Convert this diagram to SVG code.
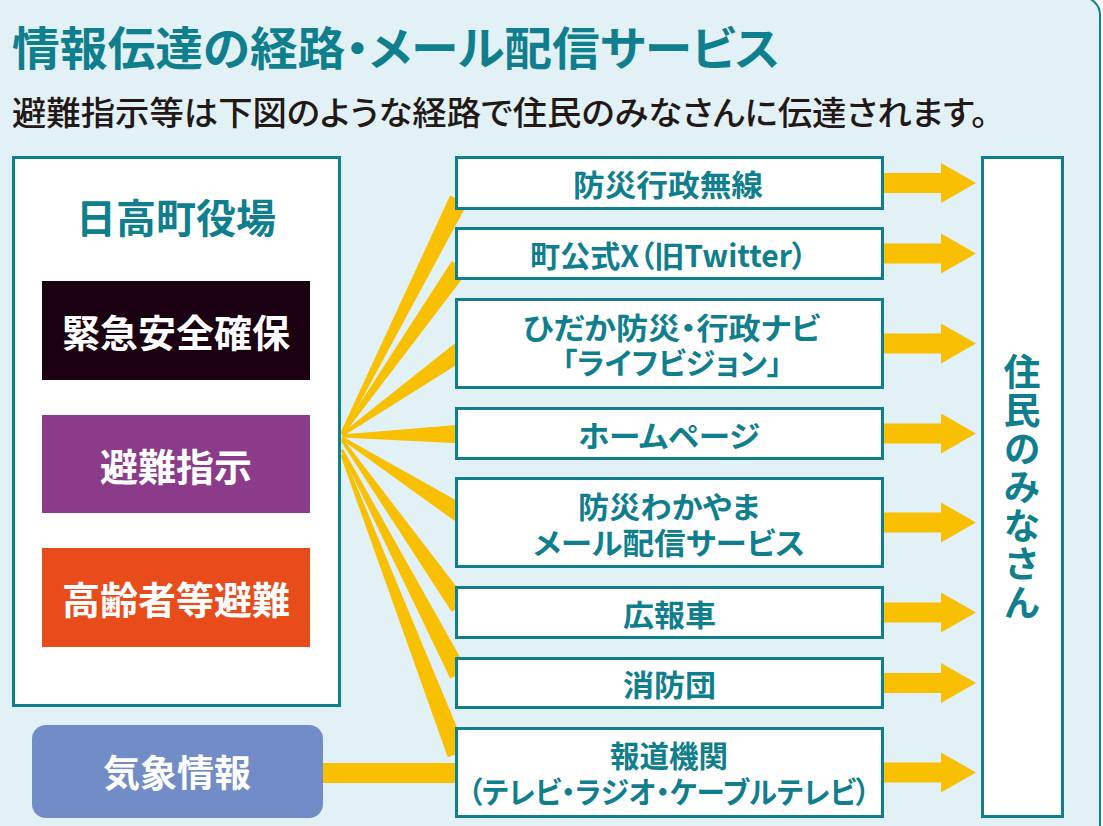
<svg xmlns="http://www.w3.org/2000/svg" xmlns:xlink="http://www.w3.org/1999/xlink" width="1103" height="826" viewBox="0 0 1103 826">
<style>
  .jp { font-family: "Noto Sans CJK JP", "Noto Sans", sans-serif; font-feature-settings: "palt"; }
  .teal { fill: #0f7e8d; }
  .white { fill: #ffffff; }
  .b { font-weight: 700; }
  .box { fill: #ffffff; stroke: #0f7e8d; stroke-width: 3; }
  .band { fill: #f8c000; }
  .mid { font-size: 30px; text-anchor: middle; dominant-baseline: central; }
  .big { text-anchor: middle; dominant-baseline: central; }
  .vert { writing-mode: vertical-rl; text-anchor: middle; font-feature-settings: normal; }
</style>
<defs>
  <path id="arr" d="M-4,-10 H57 V-20 L92,0 L57,20 V10 H-4 Z" fill="#f8c000"/>
</defs>
<rect x="0" y="0" width="1103" height="826" fill="#ffffff"/>
<rect x="-20" y="-3" width="1120" height="850" rx="18" ry="18" fill="#e1f1f5" stroke="#0f7e8d" stroke-width="2"/>

<g id="title">
  <text class="jp teal" x="12" y="45" font-size="46" font-weight="700" dominant-baseline="central" textLength="768" lengthAdjust="spacingAndGlyphs">情報伝達の経路・メール配信サービス</text>
  <text class="jp" x="12" y="111" font-size="33" font-weight="500" fill="#231815" dominant-baseline="central" textLength="976" lengthAdjust="spacingAndGlyphs">避難指示等は下図のような経路で住民のみなさんに伝達されます。</text>
</g>

<g id="connectors">
  <polygon class="band" points="340.7,432.3 450.1,195.6 467.1,204.0 343.3,433.7"/>
  <polygon class="band" points="340.8,433.1 451.8,261.0 467.4,272.0 343.2,434.9"/>
  <polygon class="band" points="341.1,433.8 456.0,342.6 467.0,358.2 342.9,436.2"/>
  <polygon class="band" points="342,434.5 462.8,424.4 463.2,443.4 342,437.5"/>
  <polygon class="band" points="342.8,436.7 466.8,506.3 456.6,522.3 341.2,439.3"/>
  <polygon class="band" points="343.2,439.1 467.4,601.0 451.8,612.0 340.8,440.9"/>
  <polygon class="band" points="343.3,449.3 467.1,669.7 450.3,678.5 340.7,450.7"/>
  <polygon class="band" points="343.4,454.5 466.6,750.4 447.8,757.2 340.6,455.5"/>
  <rect class="band" x="318" y="763" width="145" height="20"/>
  <use href="#arr" x="884" y="183"/>
  <use href="#arr" x="884" y="253.5"/>
  <use href="#arr" x="884" y="343.5"/>
  <use href="#arr" x="884" y="433.5"/>
  <use href="#arr" x="884" y="522.5"/>
  <use href="#arr" x="884" y="612.5"/>
  <use href="#arr" x="884" y="683"/>
  <use href="#arr" x="884" y="772.5"/>
</g>

<g id="node-town">
  <rect class="box" x="13.5" y="157.5" width="326" height="548"/>
  <text class="jp teal b big" x="176" y="216" font-size="40">日高町役場</text>
</g>
<g id="node-kinkyu">
  <rect x="42" y="281" width="268" height="99" fill="#1b0011"/>
  <text class="jp white b big" x="176" y="330" font-size="38">緊急安全確保</text>
</g>
<g id="node-hinan">
  <rect x="42" y="415" width="268" height="98" fill="#8c3b8b"/>
  <text class="jp white b big" x="176" y="464" font-size="38">避難指示</text>
</g>
<g id="node-koreisha">
  <rect x="42" y="548" width="268" height="99" fill="#e94c1b"/>
  <text class="jp white b big" x="176" y="597" font-size="38">高齢者等避難</text>
</g>
<g id="node-kisho">
  <rect x="32" y="725" width="291" height="93" rx="14" ry="14" fill="#728cc7"/>
  <text class="jp white b big" x="177" y="771" font-size="37">気象情報</text>
</g>

<g id="node-musen">
  <rect class="box" x="456.5" y="157.5" width="426" height="51"/>
  <text class="jp teal b mid" x="668" y="183" textLength="190" lengthAdjust="spacingAndGlyphs">防災行政無線</text>
</g>
<g id="node-x">
  <rect class="box" x="456.5" y="228.5" width="426" height="50"/>
  <text class="jp teal b mid" x="668.5" y="253.5" textLength="277" lengthAdjust="spacingAndGlyphs">町公式X（旧Twitter）</text>
</g>
<g id="node-navi">
  <rect class="box" x="456.5" y="299.5" width="426" height="88"/>
  <text class="jp teal b mid" x="671.5" y="326" textLength="297" lengthAdjust="spacingAndGlyphs">ひだか防災・行政ナビ</text>
  <text class="jp teal b mid" x="672" y="361" textLength="220" lengthAdjust="spacingAndGlyphs">「ライフビジョン」</text>
</g>
<g id="node-hp">
  <rect class="box" x="456.5" y="408.5" width="426" height="50"/>
  <text class="jp teal b mid" x="669" y="433.5" textLength="182" lengthAdjust="spacingAndGlyphs">ホームページ</text>
</g>
<g id="node-mail">
  <rect class="box" x="456.5" y="478.5" width="426" height="88"/>
  <text class="jp teal b mid" x="669" y="505" textLength="182" lengthAdjust="spacingAndGlyphs">防災わかやま</text>
  <text class="jp teal b mid" x="669" y="541" textLength="272" lengthAdjust="spacingAndGlyphs">メール配信サービス</text>
</g>
<g id="node-kohosha">
  <rect class="box" x="456.5" y="587.5" width="426" height="50"/>
  <text class="jp teal b mid" x="669.5" y="612.5" textLength="93" lengthAdjust="spacingAndGlyphs">広報車</text>
</g>
<g id="node-shobodan">
  <rect class="box" x="456.5" y="658.5" width="426" height="49"/>
  <text class="jp teal b mid" x="669.5" y="683" textLength="93" lengthAdjust="spacingAndGlyphs">消防団</text>
</g>
<g id="node-hodo">
  <rect class="box" x="456.5" y="728.5" width="426" height="88"/>
  <text class="jp teal b mid" x="669" y="754" textLength="118" lengthAdjust="spacingAndGlyphs">報道機関</text>
  <text class="jp teal b mid" x="669" y="790" textLength="402" lengthAdjust="spacingAndGlyphs">（テレビ・ラジオ・ケーブルテレビ）</text>
</g>

<g id="node-jumin">
  <rect class="box" x="982.5" y="157.5" width="80" height="659"/>
  <text class="jp teal b vert" x="1022" y="488" font-size="37" letter-spacing="1.5">住民のみなさん</text>
</g>
</svg>
